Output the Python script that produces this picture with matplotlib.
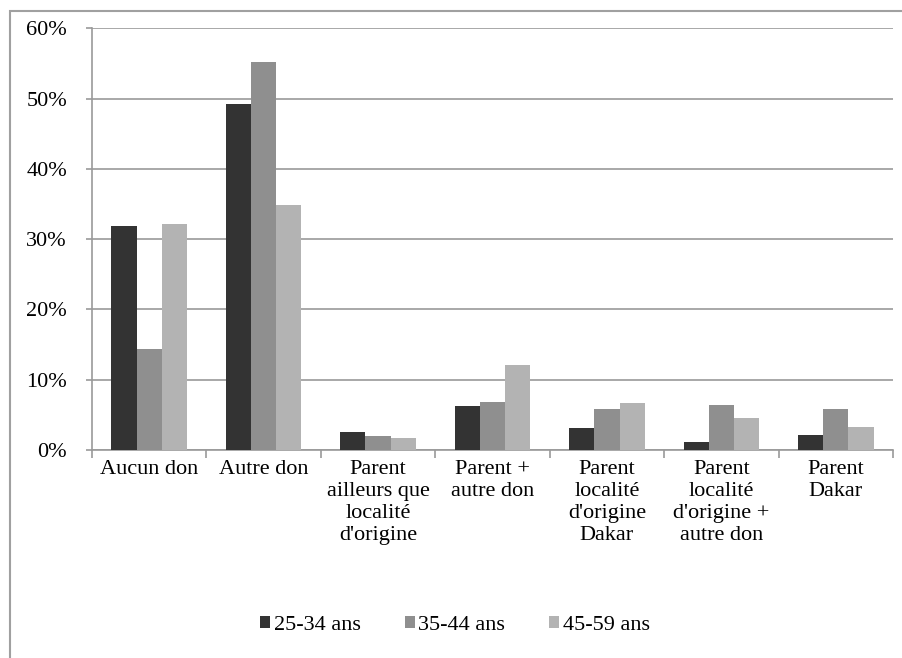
import numpy as np
import matplotlib
matplotlib.use("Agg")
from matplotlib import pyplot as plt
from matplotlib.patches import Rectangle
from matplotlib.ticker import FuncFormatter

categories = ["Aucun don", "Autre don", "Parent\nailleurs que\nlocalité\nd'origine",
              "Parent +\nautre don", "Parent\nlocalité\nd'origine\nDakar",
              "Parent\nlocalité\nd'origine +\nautre don", "Parent\nDakar"]
series_names = ["25-34 ans", "35-44 ans", "45-59 ans"]
ans_25_34 = [31.9, 49.2, 2.5, 6.2, 3.1, 1.2, 2.1]
ans_35_44 = [14.3, 55.2, 2.0, 6.8, 5.9, 6.4, 5.9]
ans_45_59 = [32.1, 34.9, 1.7, 12.1, 6.7, 4.5, 3.3]
colors = ["#333333", "#8f8f8f", "#b3b3b3"]

plt.rcParams['font.family'] = ['Liberation Serif', 'DejaVu Serif']

fig = plt.figure(figsize=(9.02, 6.58), dpi=100)
ax = fig.add_axes([92/902, 1-450/658, (893-92)/902, (450-28.3)/658])

x = np.arange(len(categories))
w = 0.22
for i, vals in enumerate([ans_25_34, ans_35_44, ans_45_59]):
    ax.bar(x + (i-1)*w, vals, width=w, color=colors[i], label=series_names[i], zorder=3)

ax.set_xlim(-0.5, len(categories)-0.5)
ax.set_ylim(0, 60)
ax.set_yticks(np.arange(0, 61, 10))
ax.yaxis.set_major_formatter(FuncFormatter(lambda v, p: "%d%%" % v))
ax.grid(axis="y", color="#9a9a9a", linewidth=1.2, zorder=0)
ax.set_axisbelow(True)

ax.set_xticks(x)
ax.set_xticklabels(categories, fontsize=16, va="top", linespacing=1.22)
ax.set_xticks(np.arange(-0.5, len(categories), 1), minor=True)
ax.tick_params(axis="x", which="major", length=0, pad=7)
ax.tick_params(axis="x", which="minor", length=6, color="#9a9a9a", width=1.2)
ax.tick_params(axis="y", length=4, color="#9a9a9a", width=1.2, pad=14, labelsize=16)

for s in ["top", "right"]:
    ax.spines[s].set_visible(False)
for s in ["left", "bottom"]:
    ax.spines[s].set_color("#9a9a9a")
    ax.spines[s].set_linewidth(1.2)

# chart border
fig.patches.append(Rectangle((10/902, -0.1), 1.0, 1.1 - 11/658, transform=fig.transFigure,
                             fill=False, edgecolor="#a0a0a0", linewidth=1.5))

fig.legend(loc="center", bbox_to_anchor=(455/902, 1-625/658), ncol=3, frameon=False,
           fontsize=16, handlelength=0.45, handleheight=0.45, handletextpad=0.15,
           columnspacing=2.0)

fig.savefig("out.png", dpi=100)
